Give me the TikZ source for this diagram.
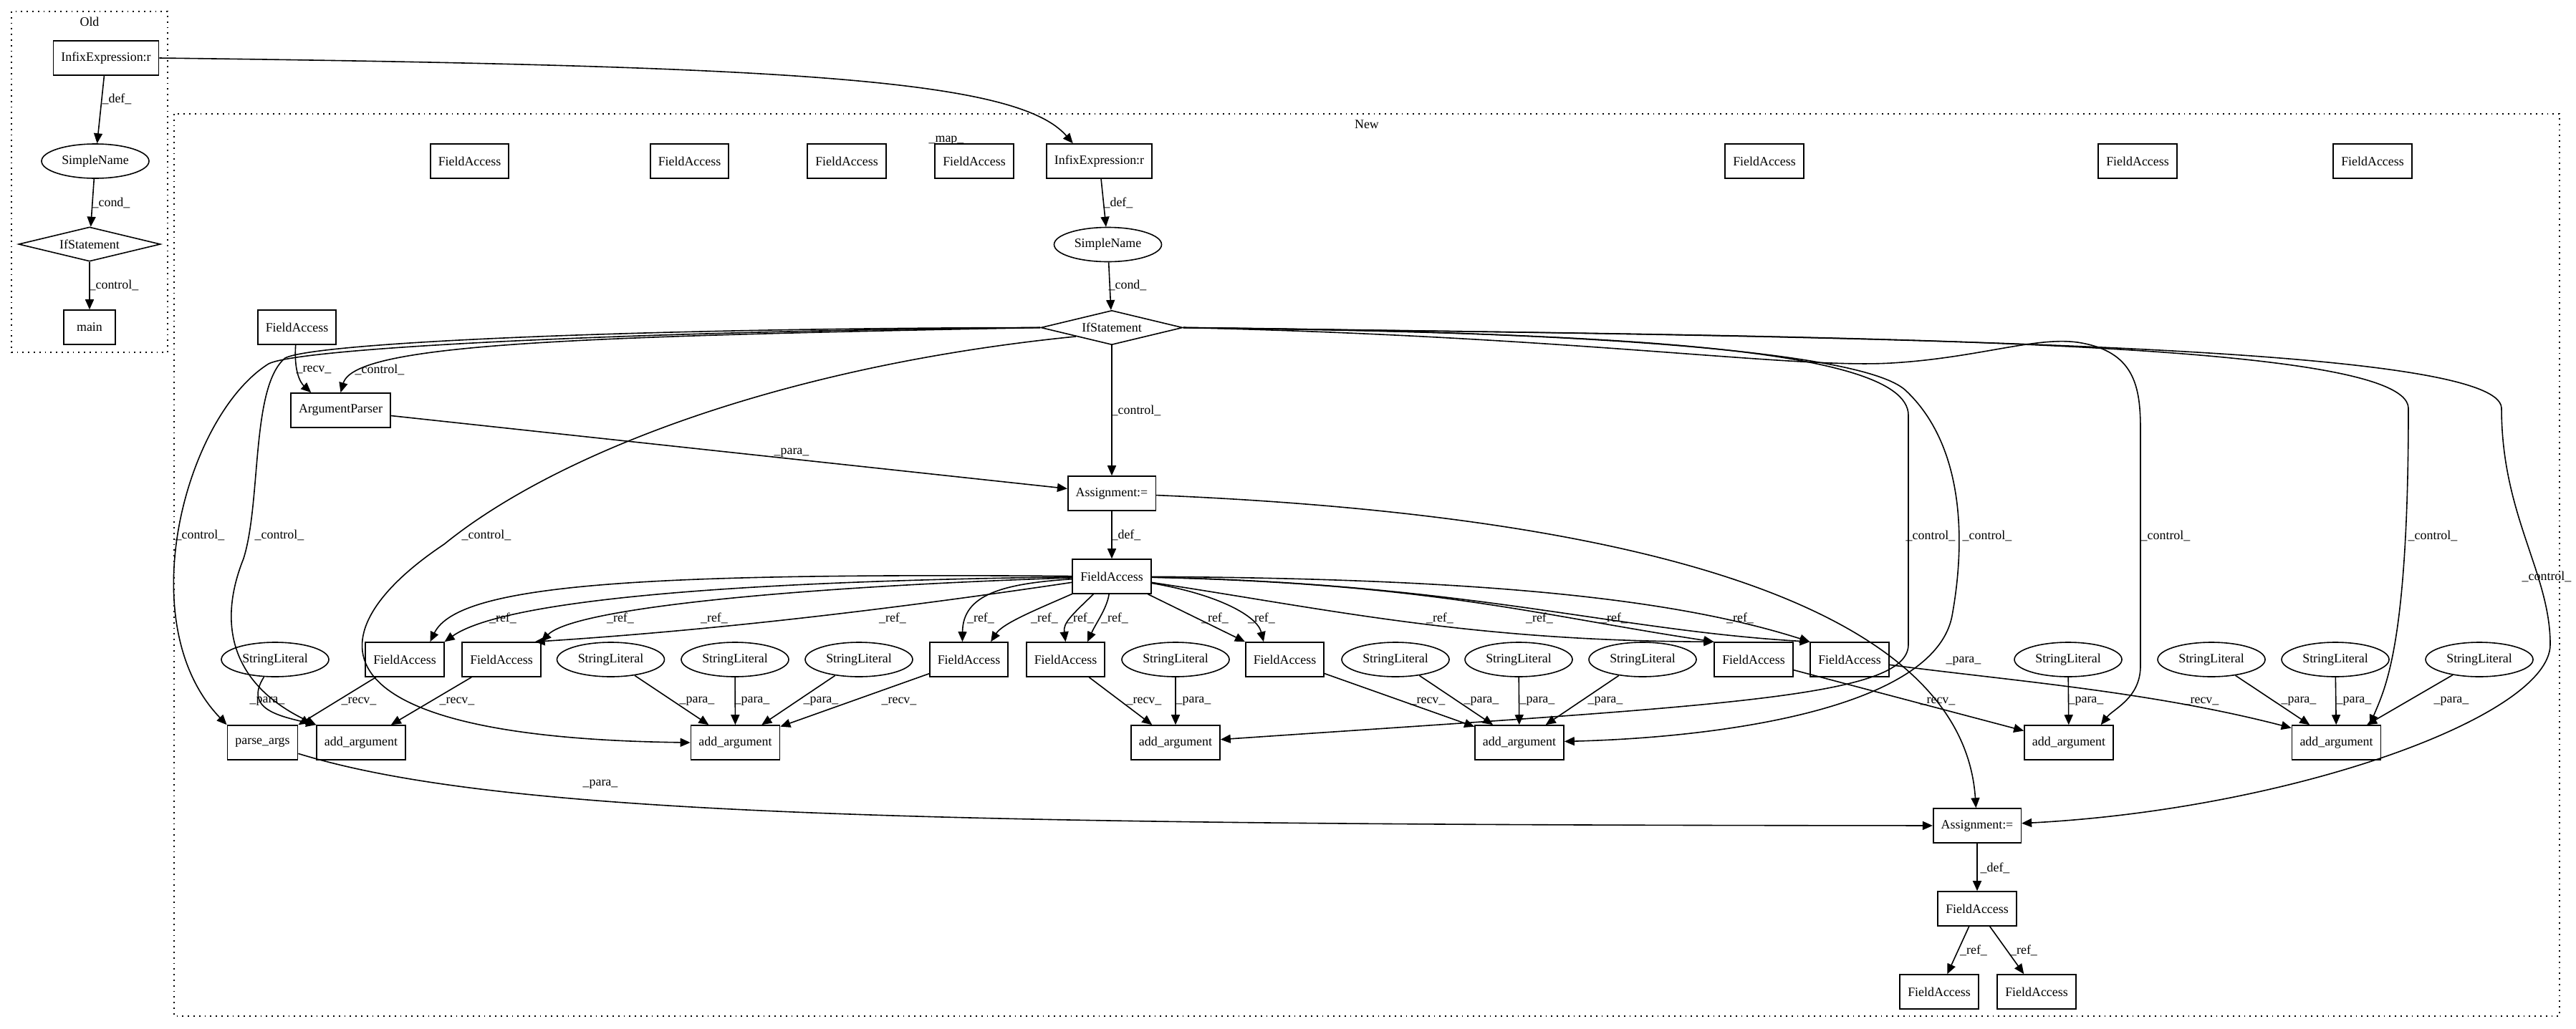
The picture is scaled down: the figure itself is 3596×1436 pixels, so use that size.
\documentclass[tikz,border=0pt]{standalone}
\usepackage{fontspec}
\setmainfont{Liberation Serif}
\usetikzlibrary{arrows.meta,shapes.geometric}

\tikzset{
  stmt/.style={draw, rectangle, line width=1.6pt, minimum width=72pt, minimum height=48pt, inner xsep=11pt, inner ysep=0pt},
  lit/.style={draw, ellipse, line width=1.6pt, minimum width=150pt, minimum height=48pt, inner sep=0pt},
  branch/.style={draw, diamond, line width=1.6pt, aspect=4, minimum width=198pt, minimum height=48pt, inner sep=0pt},
  flow/.style={line width=1.6pt, -{Triangle[length=14pt,width=12pt]}},
  elbl/.style={inner sep=0pt},
  clusterbox/.style={line width=1.8pt, dash pattern=on 1.8pt off 6pt}
}

\begin{document}
\begin{tikzpicture}[x=1pt, y=-1pt, font=\fontsize{17.9}{21}\selectfont]
    \useasboundingbox (0,0) rectangle (3596,1436);

    % Clusters
    \draw[clusterbox] (16,16) rectangle (234,492);
    \node[elbl] (old) at (125,30) {Old};
    \draw[clusterbox] (243,159) rectangle (3573,1419);
    \node[elbl] (new) at (1908,174) {New};

    % Draw nodes (old)
    \node[stmt] (oinfix) at (148,81) {InfixExpression:r};
    \node[lit] (osimple) at (133,225) {SimpleName};
    \node[branch] (oif) at (125,341) {IfStatement};
    \node[stmt] (omain) at (125,457) {main};

    % Draw nodes (new, top row)
    \node[stmt] (fat1) at (655.5,225) {FieldAccess};
    \node[stmt] (fat2) at (962.5,225) {FieldAccess};
    \node[stmt] (fat3) at (1182,225) {FieldAccess};
    \node[stmt] (fat4) at (1360,225) {FieldAccess};
    \node[stmt] (ninfix) at (1534.5,225) {InfixExpression:r};
    \node[stmt] (fat5) at (2463,225) {FieldAccess};
    \node[stmt] (fat6) at (2984,225) {FieldAccess};
    \node[stmt] (fat7) at (3312,225) {FieldAccess};

    \node[lit] (nsimple) at (1546.5,341.5) {SimpleName};
    \node[branch] (nif) at (1552,457.5) {IfStatement};
    \node[stmt] (fasrc) at (414.5,457) {FieldAccess};
    \node[stmt] (argp) at (475.5,573) {ArgumentParser};
    \node[stmt] (asg1) at (1552,689) {Assignment:=};
    \node[stmt] (fadef) at (1552,805) {FieldAccess};

    % middle row
    \node[lit] (sl1) at (384,921) {StringLiteral};
    \node[stmt] (fa1) at (565,921) {FieldAccess};
    \node[stmt] (fa2) at (700,921) {FieldAccess};
    \node[lit] (sl2) at (852.5,921) {StringLiteral};
    \node[lit] (sl3) at (1026,921) {StringLiteral};
    \node[lit] (sl4) at (1199,921) {StringLiteral};
    \node[stmt] (fa3) at (1352.5,921) {FieldAccess};
    \node[stmt] (fa4) at (1487.5,921) {FieldAccess};
    \node[lit] (sl5) at (1641,921) {StringLiteral};
    \node[stmt] (fa5) at (1793.5,921) {FieldAccess};
    \node[lit] (sl6) at (1948,921) {StringLiteral};
    \node[lit] (sl7) at (2120,921) {StringLiteral};
    \node[lit] (sl8) at (2293,921) {StringLiteral};
    \node[stmt] (fa6) at (2448,921) {FieldAccess};
    \node[stmt] (fa7) at (2582,921) {FieldAccess};
    \node[lit] (sl9) at (2887,921) {StringLiteral};
    \node[lit] (sl10) at (3087,921) {StringLiteral};
    \node[lit] (sl11) at (3260,921) {StringLiteral};
    \node[lit] (sl12) at (3461,921) {StringLiteral};

    % bottom rows
    \node[stmt] (pargs) at (366.5,1037) {parse\_args};
    \node[stmt] (add1) at (504,1037) {add\_argument};
    \node[stmt] (add2) at (1026.5,1037) {add\_argument};
    \node[stmt] (add3) at (1641,1037) {add\_argument};
    \node[stmt] (add4) at (2121,1037) {add\_argument};
    \node[stmt] (add5) at (2888,1037) {add\_argument};
    \node[stmt] (add6) at (3261.5,1037) {add\_argument};
    \node[stmt] (asg2) at (2760,1153) {Assignment:=};
    \node[stmt] (fadef2) at (2760,1269) {FieldAccess};
    \node[stmt] (fab1) at (2707,1385) {FieldAccess};
    \node[stmt] (fab2) at (2843,1385) {FieldAccess};

    % Draw connections (old)
    \draw[flow] (oinfix) -- (osimple);
    \draw[flow] (osimple) -- (oif);
    \draw[flow] (oif) -- (omain);
    \draw[flow] (oinfix.east) .. controls (1100,92) and (1420,110) .. (ninfix.146);

    % Draw connections (new)
    \draw[flow] (ninfix) -- (nsimple);
    \draw[flow] (nsimple) -- (nif);
    \draw[flow] (nif) -- (asg1);
    \draw[flow] (asg1) -- (fadef);
    \draw[flow] (fasrc) .. controls (410,520) and (420,535) .. (argp.149);
    \draw[flow] (argp) -- (asg1);
    \draw[flow] (asg1) .. controls (2300,720) and (2740,850) .. (asg2);
    \draw[flow] (pargs) .. controls (700,1140) and (1300,1152) .. (asg2);

    % control edges, left side
    \draw[flow] (nif.west) .. controls (800,470) and (495,480) .. (argp.north);
    \draw[flow] (nif.west) .. controls (900,462) and (420,485) .. (375,508)
        .. controls (260,580) and (180,870) .. (pargs.north west);
    \draw[flow] (nif.west) .. controls (900,458) and (440,478) .. (398,500)
        .. controls (350,540) and (365,700) .. (340,780)
        .. controls (300,880) and (330,960) .. (add1.north west);
    \draw[flow] (nif.south west) .. controls (1100,510) and (780,630) .. (620,760)
        .. controls (440,880) and (420,1030) .. (add2.west);

    % control edges, right side
    \draw[flow] (nif.east) .. controls (2200,465) and (2664,480) .. (2664,580)
        -- (2664,900) .. controls (2664,975) and (2400,985) .. (add3);
    \draw[flow] (nif.east) .. controls (2200,462) and (2600,490) .. (2660,545)
        .. controls (2740,620) and (2745,750) .. (2725,860)
        .. controls (2700,990) and (2400,1030) .. (add4);
    \draw[flow] (nif.east) .. controls (2200,470) and (2500,515) .. (2640,507)
        .. controls (2760,500) and (2840,470) .. (2900,478)
        .. controls (2980,490) and (2988,540) .. (2988,600)
        -- (2988,930) .. controls (2988,975) and (2950,990) .. (add5.29);
    \draw[flow] (nif.east) .. controls (2500,470) and (3360,470) .. (3362,570)
        .. controls (3362,900) and (3330,960) .. (add6.28);
    \draw[flow] (nif.east) .. controls (2600,470) and (3490,480) .. (3492,570)
        .. controls (3492,720) and (3560,800) .. (3560,900)
        .. controls (3560,1000) and (3200,1130) .. (asg2);

    % ref edges
    \draw[flow] (fadef) .. controls (900,800) and (640,815) .. (fa1.35);
    \draw[flow] (fadef) .. controls (1000,812) and (700,840) .. (fa1.north east);
    \draw[flow] (fadef) .. controls (1100,820) and (800,850) .. (fa2.north east);
    \draw[flow] (fadef) .. controls (1250,850) and (1000,880) .. (fa2.28);
    \draw[flow] (fadef) .. controls (1400,815) and (1344,830) .. (fa3.110);
    \draw[flow] (fadef) .. controls (1450,850) and (1400,870) .. (fa3.39);
    \draw[flow] (fadef) .. controls (1495,860) and (1484,870) .. (fa4.north);
    \draw[flow] (fadef) .. controls (1545,850) and (1530,870) .. (fa4.39);
    \draw[flow] (fadef) -- (fa5.north west);
    \draw[flow] (fadef) .. controls (1700,830) and (1755,860) .. (fa5.140);
    \draw[flow] (fadef) .. controls (1850,850) and (2050,895) .. (fa6.north west);
    \draw[flow] (fadef) .. controls (2000,815) and (2150,860) .. (fa6.north west);
    \draw[flow] (fadef) .. controls (2050,815) and (2250,880) .. (fa7.north west);
    \draw[flow] (fadef) .. controls (2100,808) and (2350,840) .. (fa7.north west);

    % recv and para edges
    \draw[flow] (sl1) .. controls (340,990) and (390,1000) .. (add1.north west);
    \draw[flow] (fa1) -- (pargs.north east);
    \draw[flow] (fa2) -- (add1);
    \draw[flow] (sl2) -- (add2);
    \draw[flow] (sl3) -- (add2);
    \draw[flow] (sl4) -- (add2);
    \draw[flow] (fa3) -- (add2);
    \draw[flow] (fa4) -- (add3);
    \draw[flow] (sl5) -- (add3);
    \draw[flow] (fa5) -- (add4);
    \draw[flow] (sl6) -- (add4);
    \draw[flow] (sl7) -- (add4);
    \draw[flow] (sl8) -- (add4);
    \draw[flow] (fa6) -- (add5);
    \draw[flow] (sl9) -- (add5);
    \draw[flow] (fa7) .. controls (2800,950) and (3000,965) .. (add6.162);
    \draw[flow] (sl10) -- (add6);
    \draw[flow] (sl11) -- (add6);
    \draw[flow] (sl12) -- (add6);
    \draw[flow] (asg2) -- (fadef2);
    \draw[flow] (fadef2) -- (fab1);
    \draw[flow] (fadef2) -- (fab2);

    % Labels
    \node[elbl] (l1) at (163,138) {\_def\_};
    \node[elbl] (l2) at (155,283) {\_cond\_};
    \node[elbl] (l3) at (159,398) {\_control\_};
    \node[elbl] (l4) at (1321,196) {\_map\_};
    \node[elbl] (l5) at (1561,283) {\_def\_};
    \node[elbl] (l6) at (1574,398) {\_cond\_};
    \node[elbl] (l7) at (1586,573) {\_control\_};
    \node[elbl] (l8) at (1572,747) {\_def\_};
    \node[elbl] (l9) at (438,516) {\_recv\_};
    \node[elbl] (l10) at (530,516) {\_control\_};
    \node[elbl] (l11) at (279,747) {\_control\_};
    \node[elbl] (l12) at (390,747) {\_control\_};
    \node[elbl] (l13) at (679,747) {\_control\_};
    \node[elbl] (l14) at (1105,632) {\_para\_};
    \node[elbl] (l15) at (2741,923) {\_para\_};
    \node[elbl] (l16) at (838,1095) {\_para\_};
    \node[elbl] (l17) at (2695,748) {\_control\_};
    \node[elbl] (l18) at (2774,748) {\_control\_};
    \node[elbl] (l19) at (3023,748) {\_control\_};
    \node[elbl] (l20) at (3396,748) {\_control\_};
    \node[elbl] (l21) at (3555,805) {\_control\_};
    \node[elbl] (r1) at (702,863) {\_ref\_};
    \node[elbl] (r2) at (866,863) {\_ref\_};
    \node[elbl] (r3) at (997,863) {\_ref\_};
    \node[elbl] (r4) at (1246,863) {\_ref\_};
    \node[elbl] (r5) at (1369,863) {\_ref\_};
    \node[elbl] (r6) at (1458,863) {\_ref\_};
    \node[elbl] (r7) at (1508,863) {\_ref\_};
    \node[elbl] (r8) at (1556,863) {\_ref\_};
    \node[elbl] (r9) at (1696,863) {\_ref\_};
    \node[elbl] (r10) at (1761,863) {\_ref\_};
    \node[elbl] (r11) at (2010,863) {\_ref\_};
    \node[elbl] (r12) at (2149,863) {\_ref\_};
    \node[elbl] (r13) at (2253,863) {\_ref\_};
    \node[elbl] (r14) at (2429,863) {\_ref\_};
    \node[elbl] (p1) at (373,979) {\_para\_};
    \node[elbl] (p2) at (501,979) {\_recv\_};
    \node[elbl] (p3) at (638,979) {\_recv\_};
    \node[elbl] (p4) at (973,979) {\_para\_};
    \node[elbl] (p5) at (1050,979) {\_para\_};
    \node[elbl] (p6) at (1146,979) {\_para\_};
    \node[elbl] (p7) at (1255,979) {\_recv\_};
    \node[elbl] (p8) at (1597,979) {\_recv\_};
    \node[elbl] (p9) at (1666,979) {\_para\_};
    \node[elbl] (p10) at (1993,979) {\_recv\_};
    \node[elbl] (p11) at (2068,979) {\_para\_};
    \node[elbl] (p12) at (2146,979) {\_para\_};
    \node[elbl] (p13) at (2241,979) {\_para\_};
    \node[elbl] (p14) at (2705,979) {\_recv\_};
    \node[elbl] (p15) at (2912,979) {\_para\_};
    \node[elbl] (p16) at (3073,979) {\_recv\_};
    \node[elbl] (p17) at (3209,979) {\_para\_};
    \node[elbl] (p18) at (3286,979) {\_para\_};
    \node[elbl] (p19) at (3422,979) {\_para\_};
    \node[elbl] (l22) at (2785,1212) {\_def\_};
    \node[elbl] (l23) at (2755,1327) {\_ref\_};
    \node[elbl] (l24) at (2825,1327) {\_ref\_};
\end{tikzpicture}
\end{document}
